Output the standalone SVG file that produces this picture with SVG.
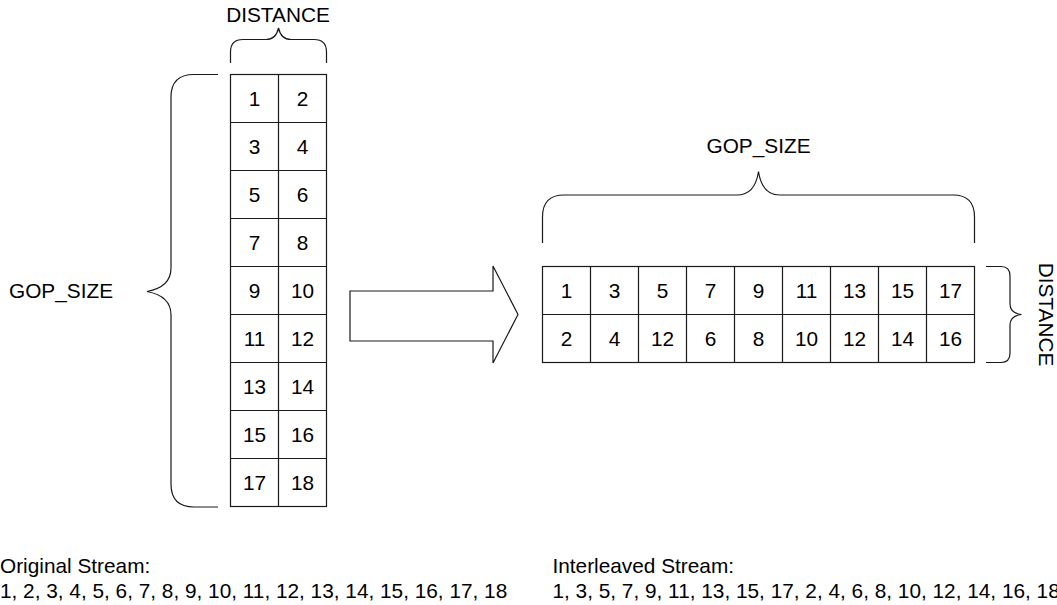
<svg xmlns="http://www.w3.org/2000/svg" width="1057" height="605" viewBox="0 0 1057 605">
<style>
text{font-family:"Liberation Sans",Arial,sans-serif;font-size:20.8px;fill:#000}
.c{text-anchor:middle}
.ln{fill:none;stroke:#1a1a1a;stroke-width:1.2}
.cell{fill:#fff;stroke:#1a1a1a;stroke-width:1.2}
</style>
<rect width="1057" height="605" fill="#fff"/>

<g id="left-grid">
<rect class="cell" x="230.5" y="74.5" width="96" height="432"/>
<path class="ln" d="M278.5,74.5V506.5M230.5,122.5H326.5M230.5,170.5H326.5M230.5,218.5H326.5M230.5,266.5H326.5M230.5,314.5H326.5M230.5,362.5H326.5M230.5,410.5H326.5M230.5,458.5H326.5"/>
<g class="c">
<text x="254.5" y="106">1</text><text x="302.5" y="106">2</text>
<text x="254.5" y="154">3</text><text x="302.5" y="154">4</text>
<text x="254.5" y="202">5</text><text x="302.5" y="202">6</text>
<text x="254.5" y="250">7</text><text x="302.5" y="250">8</text>
<text x="254.5" y="298">9</text><text x="302.5" y="298">10</text>
<text x="254.5" y="346">11</text><text x="302.5" y="346">12</text>
<text x="254.5" y="394">13</text><text x="302.5" y="394">14</text>
<text x="254.5" y="442">15</text><text x="302.5" y="442">16</text>
<text x="254.5" y="490">17</text><text x="302.5" y="490">18</text>
</g>
</g>

<g id="right-grid">
<rect class="cell" x="542.5" y="266.5" width="432" height="96"/>
<path class="ln" d="M542.5,314.5H974.5M590.5,266.5V362.5M638.5,266.5V362.5M686.5,266.5V362.5M734.5,266.5V362.5M782.5,266.5V362.5M830.5,266.5V362.5M878.5,266.5V362.5M926.5,266.5V362.5"/>
<g class="c">
<text x="566.5" y="298">1</text><text x="614.5" y="298">3</text><text x="662.5" y="298">5</text><text x="710.5" y="298">7</text><text x="758.5" y="298">9</text><text x="806.5" y="298">11</text><text x="854.5" y="298">13</text><text x="902.5" y="298">15</text><text x="950.5" y="298">17</text>
<text x="566.5" y="346">2</text><text x="614.5" y="346">4</text><text x="662.5" y="346">12</text><text x="710.5" y="346">6</text><text x="758.5" y="346">8</text><text x="806.5" y="346">10</text><text x="854.5" y="346">12</text><text x="902.5" y="346">14</text><text x="950.5" y="346">16</text>
</g>
</g>

<g id="brace-distance-top">
<path class="ln" d="M230.5,63V52Q230.5,39.5 243,39.5H266Q276,39.5 278.5,28Q281,39.5 291,39.5H314Q326.5,39.5 326.5,52V63"/>
<text class="c" x="278" y="22">DISTANCE</text>
</g>

<g id="brace-gop-left">
<path class="ln" d="M218,74.5H194Q171,74.5 171,97V268Q171,287 147,291.5Q171,296 171,315V484Q171,507 194,507H218"/>
<text x="9" y="297.5">GOP_SIZE</text>
</g>

<g id="brace-gop-top">
<path class="ln" d="M542.5,243V217Q542.5,195 564,195H737Q755,195 758.5,171.5Q762,195 780,195H953Q974.5,195 974.5,217V243"/>
<text class="c" x="758.5" y="153">GOP_SIZE</text>
</g>

<g id="brace-distance-right">
<path class="ln" d="M986,266.5H1001Q1010,266.5 1010,276V304Q1010,313 1021.5,314.5Q1010,316 1010,325V353Q1010,362.5 1001,362.5H986"/>
<text class="c" transform="translate(1038.5,314.5) rotate(90)">DISTANCE</text>
</g>

<g id="connectors">
<polygon class="ln" points="350,291 493,291 493,266 518,314.5 493,363 493,341 350,341"/>
</g>

<g id="captions">
<text x="0" y="573">Original Stream:</text>
<text x="0" y="598">1, 2, 3, 4, 5, 6, 7, 8, 9, 10, 11, 12, 13, 14, 15, 16, 17, 18</text>
<text x="552.5" y="573">Interleaved Stream:</text>
<text x="552.5" y="598">1, 3, 5, 7, 9, 11, 13, 15, 17, 2, 4, 6, 8, 10, 12, 14, 16, 18</text>
</g>
</svg>
